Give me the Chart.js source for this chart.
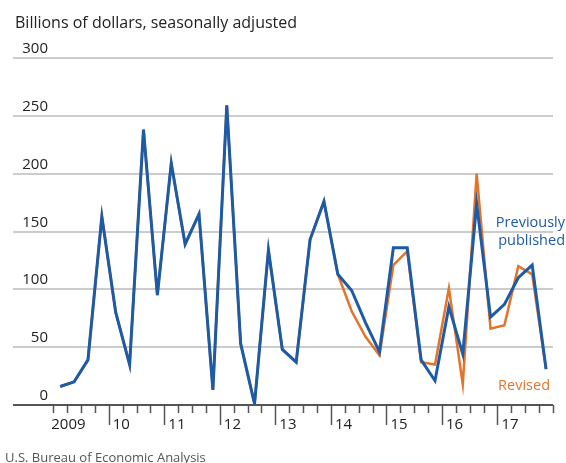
<!DOCTYPE html>
<html>
<head>
<meta charset="utf-8">
<script src="https://cdn.jsdelivr.net/npm/chart.js@4"></script>
<style>
  html, body { margin: 0; padding: 0; background: #fff; }
  canvas { display: block; }
</style>
</head>
<body>
<canvas id="chart" width="566" height="463"></canvas>
<script>
// Trimestres 2009T1 - 2017T4
const quarters = [];
for (let yr = 2009; yr <= 2017; yr++) {
  for (let q = 1; q <= 4; q++) quarters.push(yr + 'Q' + q);
}

// Valores en miles de millones de dólares
const previouslyPublished = [16, 20, 39, 163, 80, 35, 238, 95, 209, 139, 165, 13, 259, 53, 1, 134, 48, 37, 143, 176,
  113, 99, 71, 46, 136, 136, 39, 21, 85, 44, 174, 76, 87, 110, 121, 31];
const revised = [16, 20, 39, 163, 80, 35, 238, 95, 209, 139, 165, 13, 259, 53, 1, 134, 48, 37, 143, 176,
  113, 81, 59, 43, 121, 133, 37, 35, 101, 18, 200, 66, 69, 120, 113, 31];

const yTicks = [0, 50, 100, 150, 200, 250, 300];
const yearLabels = ['2009', '10', '11', '12', '13', '14', '15', '16', '17'];

const BLUE = '#1d5ba6';
const ORANGE = '#e5742b';
const FONT = '"Open Sans", Lato, sans-serif';

// cada punto va en el centro de su trimestre
const toPoints = arr => arr.map((v, i) => ({ x: i + 0.5, y: v }));

// Textos, etiquetas y marcas del eje X
const extras = {
  id: 'extras',
  afterDraw(chart) {
    const { ctx, scales: { x, y } } = chart;
    const base = y.getPixelForValue(0);
    ctx.save();

    // etiquetas del eje Y, encima de cada línea
    ctx.fillStyle = '#222';
    ctx.font = '15px ' + FONT;
    ctx.textAlign = 'right';
    ctx.textBaseline = 'alphabetic';
    yTicks.forEach(v => {
      ctx.fillText(String(v), 48, y.getPixelForValue(v) - 5);
    });

    // marcas de trimestre (largas en cambio de año)
    ctx.strokeStyle = '#555';
    ctx.lineWidth = 1.5;
    for (let q = 0; q <= quarters.length; q++) {
      const px = Math.round(x.getPixelForValue(q)) + 0.5;
      const long = q % 4 === 0 && q > 0 && q < quarters.length;
      ctx.beginPath();
      ctx.moveTo(px, base);
      ctx.lineTo(px, base + (long ? 20 : 8));
      ctx.stroke();
    }

    // años
    ctx.fillStyle = '#222';
    ctx.textAlign = 'left';
    yearLabels.forEach((lab, i) => {
      const px = x.getPixelForValue(i * 4);
      ctx.fillText(lab, i === 0 ? px - 2 : px + 4, base + 24);
    });

    // título
    ctx.font = '16px ' + FONT;
    ctx.fillText('Billions of dollars, seasonally adjusted', 15, 28);

    // leyenda
    ctx.textAlign = 'right';
    ctx.font = '14.5px ' + FONT;
    ctx.fillStyle = BLUE;
    ctx.fillText('Previously', 565, 227);
    ctx.fillText('published', 565, 245);
    ctx.fillStyle = ORANGE;
    ctx.fillText('Revised', 550, 390);

    // fuente
    ctx.textAlign = 'left';
    ctx.fillStyle = '#555';
    ctx.font = '13px ' + FONT;
    ctx.fillText('U.S. Bureau of Economic Analysis', 5, 462);
    ctx.restore();
  }
};

new Chart(document.getElementById('chart'), {
  type: 'line',
  data: {
    datasets: [
      {
        label: 'Previously published',
        data: toPoints(previouslyPublished),
        borderColor: BLUE,
        borderWidth: 3,
        order: 0
      },
      {
        label: 'Revised',
        data: toPoints(revised),
        borderColor: ORANGE,
        borderWidth: 2.5,
        order: 1
      }
    ]
  },
  options: {
    responsive: false,
    animation: false,
    events: [],
    layout: { padding: { top: 58, bottom: 58, left: 13, right: 13 } },
    elements: {
      line: { tension: 0, fill: false },
      point: { radius: 0 }
    },
    plugins: {
      legend: { display: false },
      tooltip: { enabled: false }
    },
    scales: {
      x: {
        type: 'linear',
        display: false,
        min: -2.9,
        max: quarters.length
      },
      y: {
        min: 0,
        max: 300,
        afterBuildTicks: s => { s.ticks = yTicks.map(v => ({ value: v })); },
        afterFit: s => { s.width = 0; },
        ticks: { display: false },
        border: { display: false },
        grid: {
          drawTicks: false,
          color: c => c.tick && c.tick.value === 0 ? '#555' : '#cccccc',
          lineWidth: 2
        }
      }
    }
  },
  plugins: [extras]
});
</script>
</body>
</html>
